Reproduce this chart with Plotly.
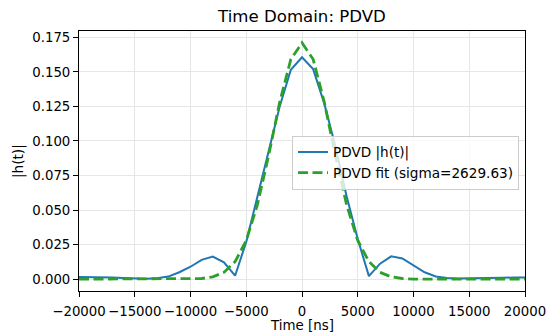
import plotly.graph_objects as go

# Time samples [ns]
time_ns = list(range(-20000, 20001, 1000))

# Measured impulse response magnitude |h(t)|
h_abs = [
    0.0015, 0.0015, 0.0014, 0.0012, 0.0009, 0.0005, 0.0003, 0.0006, 0.0019, 0.0050,
    0.0090, 0.0140, 0.0163, 0.0122, 0.0025, 0.0270, 0.0600, 0.0940, 0.1250, 0.1515,
    0.1605,
    0.1520, 0.1270, 0.0960, 0.0600, 0.0290, 0.0022, 0.0112, 0.0165, 0.0150, 0.0100,
    0.0050, 0.0020, 0.0008, 0.0005, 0.0005, 0.0006, 0.0008, 0.0010, 0.0012, 0.0012,
]

# Gaussian fit values on the same grid
h_fit = [
    0.0, 0.0, 0.0, 0.0, 0.0, 0.0, 0.0, 0.0, 0.0, 0.0,
    0.0001, 0.0005, 0.0017, 0.0049, 0.0127, 0.0280, 0.0538, 0.0892, 0.1281, 0.1591,
    0.1710,
    0.1591, 0.1281, 0.0892, 0.0538, 0.0280, 0.0127, 0.0049, 0.0017, 0.0005, 0.0001,
    0.0, 0.0, 0.0, 0.0, 0.0, 0.0, 0.0, 0.0, 0.0, 0.0,
]

fit_sigma = 2629.63

x_tick_vals = [-20000, -15000, -10000, -5000, 0, 5000, 10000, 15000, 20000]
x_tick_text = ["\u221220000", "\u221215000", "\u221210000", "\u22125000", "0",
               "5000", "10000", "15000", "20000"]
y_tick_vals = [0.0, 0.025, 0.05, 0.075, 0.1, 0.125, 0.15, 0.175]

FONT = "DejaVu Sans"
W, H = 549, 333
M_L, M_R, M_T, M_B = 79, 24, 31, 42
PLOT_W = W - M_L - M_R
PLOT_H = H - M_T - M_B

fig = go.Figure()
fig.add_trace(go.Scatter(
    x=time_ns, y=h_abs, mode="lines", name="PDVD |h(t)|",
    line=dict(color="#1f77b4", width=2),
))
fig.add_trace(go.Scatter(
    x=time_ns, y=h_fit, mode="lines", name=f"PDVD fit (sigma={fit_sigma:.2f})",
    line=dict(color="#2ca02c", width=2.8, dash="10px,4.5px"),
))

axis_common = dict(
    showline=True, linecolor="#000000", linewidth=1, mirror=True,
    ticks="outside", ticklen=5, tickwidth=1, tickcolor="#000000",
    showgrid=True, gridcolor="#e6e6e6", gridwidth=1,
    zeroline=False, automargin=False, tickangle=0,
    tickfont=dict(family=FONT, size=13.3, color="#000000"),
)

fig.update_layout(
    width=W, height=H,
    margin=dict(l=M_L, r=M_R, t=M_T, b=M_B, pad=0),
    paper_bgcolor="white", plot_bgcolor="white",
    font=dict(family=FONT, size=13.6, color="#000000"),
    title=dict(
        text="Time Domain: PDVD", x=(M_L + PLOT_W / 2) / W, xanchor="center",
        y=1 - 16 / H, yanchor="middle",
        font=dict(family=FONT, size=16.6, color="#000000"),
    ),
    xaxis=dict(
        range=[-20000, 20000], tickvals=x_tick_vals, ticktext=x_tick_text,
        ticklabelstandoff=3,
        **axis_common,
    ),
    yaxis=dict(
        range=[-0.00855, 0.17955], tickvals=y_tick_vals, tickformat=".3f",
        **axis_common,
    ),
    legend=dict(
        x=0.9865, xanchor="right", y=0.494, yanchor="middle",
        bgcolor="rgba(255,255,255,0.8)", bordercolor="#cccccc", borderwidth=1,
        font=dict(family=FONT, size=13.6, color="#000000"),
        tracegroupgap=0,
    ),
    showlegend=True,
    annotations=[
        # axis titles
        dict(text="Time [ns]", xref="paper", yref="paper",
             x=0.5, y=-(325.6 - (H - M_B)) / PLOT_H,
             xanchor="center", yanchor="middle", showarrow=False,
             borderpad=0,
             font=dict(family=FONT, size=13.4, color="#000000")),
        dict(text="|h(t)|", xref="paper", yref="paper",
             x=-(M_L - 18) / PLOT_W, y=0.5, textangle=-90,
             xanchor="center", yanchor="middle", showarrow=False,
             font=dict(family=FONT, size=13.6, color="#000000")),
    ],
)

fig.write_html("out.html")
